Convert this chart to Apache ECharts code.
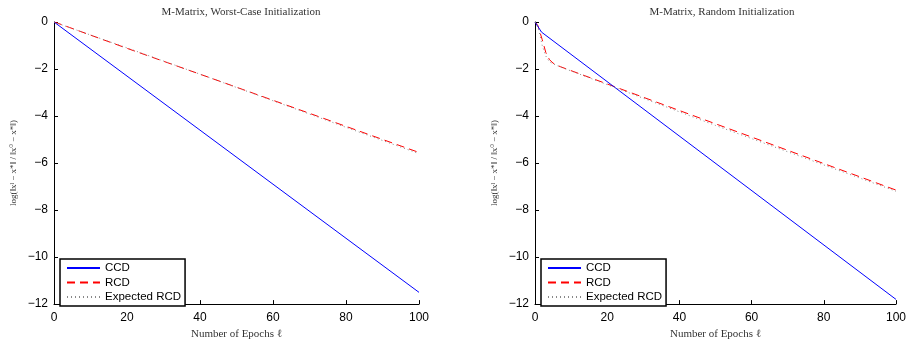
<!DOCTYPE html>
<html><head><meta charset="utf-8">
<script src="https://cdn.jsdelivr.net/npm/echarts@6/dist/echarts.min.js"></script>
<style>html,body{margin:0;padding:0;background:#fff}#c{width:909px;height:345px}</style>
</head><body><div id="c"></div>
<script>
// Left panel: Worst-Case Initialization  [epoch, log error]
const leftCCD = [[0,0],[0.5,-0.04],[100,-11.5]];
const leftRCD = [[0,0],[1,-0.05],[20,-1.12],[40,-2.22],[60,-3.33],[80,-4.44],[100,-5.55]];
const leftExp = [[0,0],[1,-0.06],[20,-1.1],[40,-2.22],[60,-3.35],[80,-4.48],[100,-5.6]];
// Right panel: Random Initialization
const rightCCD = [[0,0],[1.8,-0.43],[100,-11.8]];
const rightRCD = [[0,0],[0.8,-0.15],[2,-0.75],[3,-1.3],[4,-1.6],[5,-1.75],[7,-1.9],[22,-2.75],[50,-4.33],[100,-7.15]];
const rightExp = [[0,0],[1,-0.3],[2,-1.0],[3,-1.45],[4,-1.7],[6,-1.85],[22,-2.78],[50,-4.4],[100,-7.2]];
const titles = ['M-Matrix, Worst-Case Initialization','M-Matrix, Random Initialization'];
const seriesNames = ['CCD','RCD','Expected RCD'];

const chart = echarts.init(document.getElementById('c'));
const grids = [
  {left:54, right:490, top:22, bottom:35},
  {left:535, right:10, top:22, bottom:35}
];
const serif = '"Liberation Serif","DejaVu Serif",serif';
const sans = '"Liberation Sans",Arial,sans-serif';
function xAxis(i){return {type:'value',gridIndex:i,min:0,max:100,interval:20,
  axisLine:{onZero:false,lineStyle:{color:'#000',width:1}},axisTick:{inside:true,length:4,lineStyle:{color:'#000'}},
  splitLine:{show:false},axisLabel:{color:'#000',fontFamily:sans,fontSize:12,margin:8},
  name:'Number of Epochs ℓ',nameLocation:'middle',nameGap:22,
  nameTextStyle:{fontFamily:serif,fontSize:11,color:'#333'}};}
function yAxis(i){return {type:'value',gridIndex:i,min:-12,max:0,interval:2,
  axisLine:{show:true,onZero:false,lineStyle:{color:'#000',width:1}},axisTick:{show:true,inside:true,length:4,lineStyle:{color:'#000'}},
  splitLine:{show:false},axisLabel:{color:'#000',fontFamily:sans,fontSize:12,margin:6,
    formatter:v=>String(v).replace('-','\u2212')},
  name:'log(‖xˡ − x*‖ / ‖x⁰ − x*‖)',nameLocation:'middle',nameGap:36,nameRotate:90,
  nameTextStyle:{fontFamily:serif,fontSize:9,color:'#333'}};}
const data = [[leftCCD,leftRCD,leftExp],[rightCCD,rightRCD,rightExp]];
const styles = [
  {color:'#0000ff',type:'solid',width:1},
  {color:'#ff0000',type:[8,5],width:1},
  {color:'#888888',type:[1,3],width:1}
];
const series = [];
for(let g=0;g<2;g++){
  for(let s=0;s<3;s++){
    series.push({type:'line',name:seriesNames[s],xAxisIndex:g,yAxisIndex:g,data:data[g][s],
      showSymbol:false,symbol:'none',lineStyle:styles[s],itemStyle:{color:styles[s].color},
      animation:false,z:s===0?3:(s===1?2:4)});
  }
}
const legends = [0,1].map(g=>({
  left: g===0?60:541, top:259, orient:'vertical', itemWidth:33, itemHeight:11, itemGap:2.5,
  padding:[3,4,3,6], borderColor:'#000', borderWidth:1.5, backgroundColor:'#fff',
  itemStyle:{opacity:0},
  textStyle:{fontFamily:sans,fontSize:11.5,color:'#000'},
  data: seriesNames.slice(),
  selectedMode:false
}));
chart.setOption({
  backgroundColor:'#fff',
  animation:false,
  title: titles.map((t,i)=>({text:t,left:i===0?236:717,top:2,textAlign:'center',
    textStyle:{fontFamily:serif,fontSize:11,fontWeight:'normal',color:'#333'}})),
  grid:grids,
  xAxis:[xAxis(0),xAxis(1)],
  yAxis:[yAxis(0),yAxis(1)],
  legend:legends,
  series:series
});
</script></body></html>
